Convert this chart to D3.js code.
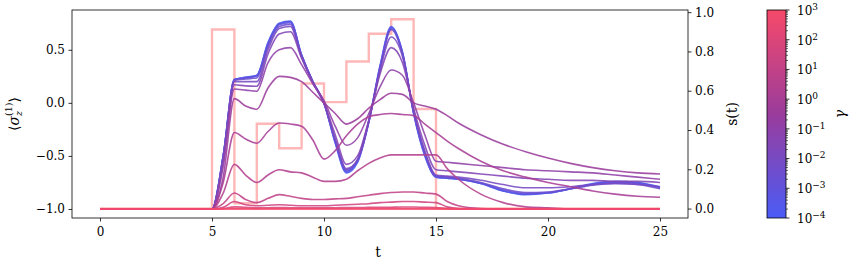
<!DOCTYPE html>
<html>
<head>
<meta charset="utf-8">
<script src="https://cdn.jsdelivr.net/npm/d3@7"></script>
<style>
  body { margin: 0; background: #fff; }
</style>
</head>
<body>
<div id="wrapper"></div>
<script>
// sample times shared by every <sigma_z> curve
const times = [0, 5, 5.5, 6, 6.5, 7, 7.5, 8, 8.5, 9, 9.5, 10, 10.5, 11, 11.5, 12, 12.5, 13, 13.5, 14, 14.5, 15, 15.5, 16, 17, 18, 19, 20, 21, 22, 23, 24, 25]

// log10(gamma) for each curve
const gammaExponents = [-4, -3.5, -3, -2.5, -2, -1.5, -1, -0.5, 0, 0.5, 1, 1.5, 2, 2.5, 3]

const sigmaG1 = [-1,-1,-0.5,0.22,0.24,0.26,0.57,0.75,0.77,0.45,0.2,0.0,-0.38,-0.66,-0.56,-0.18,0.35,0.72,0.48,-0.1,-0.5,-0.70,-0.71,-0.72,-0.76,-0.83,-0.865,-0.85,-0.81,-0.76,-0.74,-0.75,-0.79]
const sigmaG2 = [-1,-1,-0.5,0.22,0.24,0.26,0.56,0.745,0.765,0.45,0.2,0.0,-0.37,-0.65,-0.55,-0.18,0.34,0.71,0.48,-0.09,-0.49,-0.70,-0.71,-0.72,-0.76,-0.83,-0.86,-0.85,-0.81,-0.765,-0.745,-0.755,-0.795]
const sigmaG3 = [-1,-1,-0.5,0.22,0.235,0.25,0.55,0.735,0.755,0.45,0.2,0.0,-0.36,-0.64,-0.54,-0.17,0.33,0.70,0.47,-0.09,-0.48,-0.69,-0.70,-0.715,-0.755,-0.82,-0.855,-0.845,-0.81,-0.77,-0.75,-0.76,-0.80]
const sigmaG4 = [-1,-1,-0.5,0.21,0.225,0.235,0.53,0.72,0.74,0.44,0.2,0.0,-0.35,-0.63,-0.53,-0.17,0.32,0.69,0.46,-0.09,-0.47,-0.69,-0.70,-0.71,-0.75,-0.81,-0.845,-0.84,-0.81,-0.775,-0.76,-0.77,-0.81]
const sigmaG5 = [-1,-1,-0.52,0.2,0.2,0.2,0.5,0.7,0.72,0.43,0.19,-0.01,-0.34,-0.62,-0.54,-0.18,0.3,0.62,0.44,-0.07,-0.45,-0.68,-0.69,-0.70,-0.73,-0.77,-0.80,-0.80,-0.79,-0.77,-0.76,-0.77,-0.79]
const sigmaG6 = [-1,-1,-0.55,0.17,0.16,0.157,0.46,0.65,0.67,0.42,0.19,0.0,-0.3,-0.58,-0.5,-0.16,0.27,0.52,0.38,-0.05,-0.4,-0.63,-0.64,-0.65,-0.67,-0.69,-0.71,-0.72,-0.73,-0.73,-0.74,-0.74,-0.75]
const sigmaG7 = [-1,-1,-0.6,0.13,0.12,0.11,0.38,0.5,0.52,0.36,0.18,0.02,-0.22,-0.4,-0.33,-0.1,0.15,0.31,0.26,0.0,-0.3,-0.55,-0.56,-0.57,-0.59,-0.61,-0.63,-0.64,-0.65,-0.66,-0.68,-0.70,-0.72]
const sigmaG8 = [-1,-1,-0.7,0.04,-0.03,-0.06,0.14,0.25,0.24,0.2,0.1,0.0,-0.1,-0.2,-0.15,-0.05,0.03,0.09,0.08,0.0,-0.03,-0.06,-0.12,-0.19,-0.3,-0.39,-0.46,-0.52,-0.57,-0.61,-0.64,-0.66,-0.67]
const sigmaG9 = [-1,-1,-0.75,-0.28,-0.34,-0.38,-0.27,-0.19,-0.2,-0.22,-0.35,-0.53,-0.45,-0.31,-0.2,-0.13,-0.11,-0.1,-0.11,-0.12,-0.2,-0.28,-0.36,-0.43,-0.55,-0.64,-0.7,-0.75,-0.79,-0.83,-0.86,-0.88,-0.89]
const sigmaG10 = [-1,-1,-0.85,-0.58,-0.68,-0.75,-0.68,-0.63,-0.65,-0.66,-0.7,-0.74,-0.74,-0.72,-0.64,-0.57,-0.52,-0.49,-0.49,-0.49,-0.49,-0.49,-0.62,-0.72,-0.86,-0.94,-0.98,-0.99,-1,-1,-1,-1,-1]
const sigmaG11 = [-1,-1,-0.95,-0.85,-0.91,-0.94,-0.9,-0.865,-0.88,-0.9,-0.91,-0.91,-0.905,-0.9,-0.885,-0.87,-0.855,-0.845,-0.84,-0.84,-0.85,-0.86,-0.93,-0.97,-0.995,-1,-1,-1,-1,-1,-1,-1,-1]
const sigmaG12 = [-1,-1,-0.985,-0.93,-0.96,-0.97,-0.965,-0.96,-0.965,-0.97,-0.97,-0.97,-0.965,-0.96,-0.955,-0.95,-0.94,-0.935,-0.93,-0.93,-0.935,-0.94,-0.98,-0.995,-1,-1,-1,-1,-1,-1,-1,-1,-1]
const sigmaG13 = [-1,-1,-0.995,-0.98,-0.985,-0.99,-0.988,-0.987,-0.988,-0.99,-0.99,-0.99,-0.988,-0.987,-0.986,-0.985,-0.984,-0.983,-0.982,-0.982,-0.984,-0.986,-0.995,-1,-1,-1,-1,-1,-1,-1,-1,-1,-1]
const sigmaG14 = [-1,-1,-0.999,-0.997,-0.998,-0.999,-0.998,-0.998,-0.998,-0.998,-0.998,-0.998,-0.998,-0.998,-0.998,-0.997,-0.997,-0.997,-0.997,-0.997,-0.997,-0.997,-0.999,-1,-1,-1,-1,-1,-1,-1,-1,-1,-1]
const sigmaG15 = [-1,-1,-1,-1,-1,-1,-1,-1,-1,-1,-1,-1,-1,-1,-1,-1,-1,-1,-1,-1,-1,-1,-1,-1,-1,-1,-1,-1,-1,-1,-1,-1,-1]

const sigmaSeries = [sigmaG1, sigmaG2, sigmaG3, sigmaG4, sigmaG5, sigmaG6, sigmaG7, sigmaG8,
  sigmaG9, sigmaG10, sigmaG11, sigmaG12, sigmaG13, sigmaG14, sigmaG15]

// control pulse s(t), each value holds until the next time
const stepTimes = [0, 5, 6, 7, 8, 9, 10, 11, 12, 13, 14, 15, 25]
const stepValues = [0, 0.912, 0.027, 0.432, 0.307, 0.637, 0.542, 0.749, 0.89, 0.964, 0.507, 0, 0]

const xTicks = [0, 5, 10, 15, 20, 25]
const yTicks = [-1, -0.5, 0, 0.5]
const sTicks = [0, 0.2, 0.4, 0.6, 0.8, 1.0]
const gammaTicks = [-4, -3, -2, -1, 0, 1, 2, 3]

// colormap anchors: blue (small gamma) -> purple -> red (large gamma)
const colorStops = [-4, -0.5, 3]
const colorValues = ["#4a5cf6", "#9a3c9c", "#f6496a"]

const fontFamily = "'DejaVu Serif', 'Liberation Serif', serif"

function drawChart() {

  const dimensions = {
    width: 850,
    height: 262,
    plot: { left: 72, right: 688, top: 10, bottom: 218 },
    bar: { left: 767, right: 786 },
  }

  const svg = d3.select("#wrapper")
    .append("svg")
      .attr("width", dimensions.width)
      .attr("height", dimensions.height)
      .style("font-family", fontFamily)

  const p = dimensions.plot

  // scales
  const xScale = d3.scaleLinear().domain([-1.25, 26.25]).range([p.left, p.right])
  const yScale = d3.scaleLinear().domain([-1.085, 0.875]).range([p.bottom, p.top])
  const sScale = d3.scaleLinear().domain([-0.048, 1.011]).range([p.bottom, p.top])
  const gammaScale = d3.scaleLog().domain([1e-4, 1e3]).range([p.bottom, p.top])
  const colorScale = d3.scaleLinear().domain(colorStops).range(colorValues).interpolate(d3.interpolateRgb)

  svg.append("clipPath").attr("id", "plot-clip")
    .append("rect")
      .attr("x", p.left).attr("y", p.top)
      .attr("width", p.right - p.left).attr("height", p.bottom - p.top)

  const plot = svg.append("g").attr("clip-path", "url(#plot-clip)")

  // s(t) steps
  const stepLine = d3.line()
    .x((d, i) => xScale(stepTimes[i]))
    .y(d => sScale(d))
    .curve(d3.curveStepAfter)

  plot.append("path")
      .attr("d", stepLine(stepValues))
      .attr("fill", "none")
      .attr("stroke", "#ff9f9f")
      .attr("stroke-opacity", 0.75)
      .attr("stroke-width", 2.4)

  // <sigma_z> curves
  const sigmaLine = d3.line()
    .x((d, i) => xScale(times[i]))
    .y(d => yScale(d))
    .curve(d3.curveMonotoneX)

  plot.selectAll(".sigma")
    .data(sigmaSeries)
    .join("path")
      .attr("class", "sigma")
      .attr("d", d => sigmaLine(d))
      .attr("fill", "none")
      .attr("stroke", (d, i) => colorScale(gammaExponents[i]))
      .attr("stroke-opacity", 0.88)
      .attr("stroke-width", 1.6)

  // axes
  const bottomAxis = svg.append("g")
      .attr("transform", `translate(0, ${p.bottom})`)
      .call(d3.axisBottom(xScale).tickValues(xTicks).tickFormat(d3.format("d")).tickSize(3.5).tickSizeOuter(0))

  const leftAxis = svg.append("g")
      .attr("transform", `translate(${p.left}, 0)`)
      .call(d3.axisLeft(yScale).tickValues(yTicks).tickFormat(d3.format(".1f")).tickSize(3.5).tickSizeOuter(0))

  const rightAxis = svg.append("g")
      .attr("transform", `translate(${p.right}, 0)`)
      .call(d3.axisRight(sScale).tickValues(sTicks).tickFormat(d3.format(".1f")).tickSize(3.5).tickSizeOuter(0))

  ;[bottomAxis, leftAxis, rightAxis].forEach(ax => {
    ax.attr("font-family", null)
    ax.select(".domain").remove()
    ax.selectAll(".tick line").attr("stroke", "#000").attr("stroke-width", 0.8)
    ax.selectAll(".tick text").attr("font-size", 12)
  })
  bottomAxis.selectAll(".tick text").attr("dy", "1.05em").attr("y", 5)
  leftAxis.selectAll(".tick text").attr("x", -7)
  rightAxis.selectAll(".tick text").attr("x", 7)

  svg.append("rect")
      .attr("x", p.left).attr("y", p.top)
      .attr("width", p.right - p.left).attr("height", p.bottom - p.top)
      .attr("fill", "none")
      .attr("stroke", "#000")
      .attr("stroke-width", 0.8)

  // axis labels
  svg.append("text")
      .attr("x", (p.left + p.right) / 2 - 2)
      .attr("y", 257)
      .attr("text-anchor", "middle")
      .attr("font-size", 14)
      .text("t")

  const yLabel = svg.append("text")
      .attr("transform", `translate(19, ${(p.top + p.bottom) / 2}) rotate(-90)`)
      .attr("text-anchor", "middle")
      .attr("font-size", 14)
  yLabel.append("tspan").text("⟨")
  yLabel.append("tspan").attr("font-style", "italic").text("σ")
  yLabel.append("tspan").attr("font-size", 9.5).attr("font-style", "italic").attr("dy", 3).text("z")
  yLabel.append("tspan").attr("font-size", 9.5).attr("dx", -5).attr("dy", -10).text("(1)")
  yLabel.append("tspan").attr("dy", 7).text("⟩")

  svg.append("text")
      .attr("transform", `translate(737, ${(p.top + p.bottom) / 2}) rotate(-90)`)
      .attr("text-anchor", "middle")
      .attr("font-size", 14)
      .text("s(t)")

  // colorbar
  const b = dimensions.bar
  const grad = svg.append("defs").append("linearGradient")
      .attr("id", "gamma-grad")
      .attr("x1", 0).attr("y1", 1).attr("x2", 0).attr("y2", 0)
  d3.range(0, 1.0001, 0.05).forEach(f => {
    grad.append("stop")
        .attr("offset", f)
        .attr("stop-color", colorScale(-4 + 7 * f))
  })

  svg.append("rect")
      .attr("x", b.left).attr("y", p.top)
      .attr("width", b.right - b.left).attr("height", p.bottom - p.top)
      .attr("fill", "url(#gamma-grad)")
      .attr("stroke", "#000")
      .attr("stroke-width", 0.8)

  const minorTicks = []
  gammaTicks.slice(0, -1).forEach(e => {
    d3.range(2, 10).forEach(m => minorTicks.push(m * Math.pow(10, e)))
  })

  svg.append("g").selectAll("line")
    .data(minorTicks)
    .join("line")
      .attr("x1", b.right).attr("x2", b.right + 2)
      .attr("y1", d => gammaScale(d)).attr("y2", d => gammaScale(d))
      .attr("stroke", "#000").attr("stroke-width", 0.6)

  const major = svg.append("g").selectAll("g")
    .data(gammaTicks)
    .join("g")
      .attr("transform", d => `translate(${b.right}, ${gammaScale(Math.pow(10, d))})`)
  major.append("line")
      .attr("x2", 3.5)
      .attr("stroke", "#000").attr("stroke-width", 0.8)
  const majorText = major.append("text")
      .attr("x", 11)
      .attr("dy", "0.4em")
      .attr("font-size", 12)
  majorText.append("tspan").text("10")
  majorText.append("tspan")
      .attr("dy", "-0.55em")
      .attr("font-size", 9)
      .text(d => d3.format("d")(d))

  svg.append("text")
      .attr("transform", `translate(845, ${(p.top + p.bottom) / 2}) rotate(-90)`)
      .attr("text-anchor", "middle")
      .attr("font-size", 14)
      .attr("font-style", "italic")
      .text("γ")

  svg.selectAll("text")
      .style("font-family", fontFamily)
      .attr("fill", "#000")
}
drawChart()
</script>
</body>
</html>
